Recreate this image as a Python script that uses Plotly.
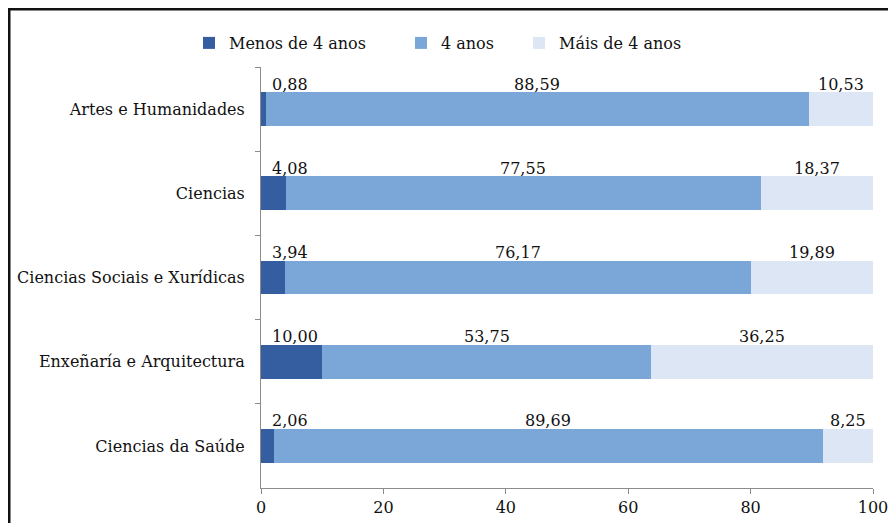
import plotly.graph_objects as go

categories = ["Artes e Humanidades", "Ciencias", "Ciencias Sociais e Xurídicas",
              "Enxeñaría e Arquitectura", "Ciencias da Saúde"]
menos4 = [0.88, 4.08, 3.94, 10.00, 2.06]
anos4 = [88.59, 77.55, 76.17, 53.75, 89.69]
mais4 = [10.53, 18.37, 19.89, 36.25, 8.25]
series_names = ["Menos de 4 anos", "4 anos", "Máis de 4 anos"]
colors = ["#345E9F", "#7BA6D8", "#DCE6F4"]
x_ticks = [0, 20, 40, 60, 80, 100]

def fmt(v):
    return f"{v:.2f}".replace(".", ",")

FONT = "DejaVu Serif"
FS = 16
OFF = 8  # page body margin
ml, mt = 261 - OFF, 67 - OFF
W, H = 896 - OFF, 523 - OFF
pw, ph = 612, 421
mr = W - ml - pw
mb = H - mt - ph

legend_ids = ["legend", "legend2", "legend3"]
text_starts = [231, 443, 561]  # page px where legend text starts

fig = go.Figure()
for name, vals, col, lid in zip(series_names, [menos4, anos4, mais4], colors, legend_ids):
    fig.add_trace(go.Bar(y=categories, x=vals, name=name, orientation="h",
                         marker=dict(color=col, line=dict(width=0)),
                         width=0.4, hoverinfo="skip", legend=lid))

annotations = []
for i, cat in enumerate(categories):
    a, b, c = menos4[i], anos4[i], mais4[i]
    annotations.append(dict(x=0, y=cat, xref="x", yref="y", text=fmt(a), showarrow=False,
                            xanchor="left", xshift=9, yshift=25,
                            font=dict(family=FONT, size=FS, color="#111")))
    annotations.append(dict(x=a + b / 2, y=cat, xref="x", yref="y", text=fmt(b), showarrow=False,
                            xanchor="center", yshift=25,
                            font=dict(family=FONT, size=FS, color="#111")))
    annotations.append(dict(x=a + b + c / 2, y=cat, xref="x", yref="y", text=fmt(c), showarrow=False,
                            xanchor="center", yshift=25,
                            font=dict(family=FONT, size=FS, color="#111")))

legends = {}
for lid, ts in zip(legend_ids, text_starts):
    legends[lid] = dict(orientation="h", x=(ts - 42 - 261) / pw, xanchor="left",
                        y=1 + 24 / ph, yanchor="middle",
                        font=dict(family=FONT, size=16, color="#111"),
                        itemwidth=30, bgcolor="rgba(0,0,0,0)")

fig.update_layout(
    width=W, height=H,
    margin=dict(l=ml, r=mr, t=mt, b=mb, autoexpand=False),
    barmode="stack",
    paper_bgcolor="white", plot_bgcolor="white",
    font=dict(family=FONT, size=FS, color="#111"),
    showlegend=True,
    **legends,
    xaxis=dict(range=[0, 100], tickvals=x_ticks, ticktext=[str(t) for t in x_ticks],
               showgrid=False, zeroline=False, showline=True, linecolor="#8c8c8c",
               ticks="outside", ticklen=5, tickcolor="#8c8c8c", automargin=False,
               tickfont=dict(family=FONT, size=FS)),
    yaxis=dict(categoryorder="array", categoryarray=categories, autorange="reversed",
               showgrid=False, zeroline=False, showline=True, linecolor="#8c8c8c",
               ticks="outside", ticklen=5, tickcolor="#8c8c8c", tickson="boundaries",
               automargin=False, ticklabelstandoff=12, tickfont=dict(family=FONT, size=FS)),
    annotations=annotations,
    shapes=[dict(type="rect", xref="paper", yref="paper",
                 x0=(9 - 261) / pw, x1=(896 + 20 - 261) / pw,
                 y0=-(523 - 488 + 20) / ph, y1=1 + (67 - 9) / ph,
                 line=dict(color="#111", width=3), fillcolor="rgba(0,0,0,0)")],
)

fig.write_html("out.html")
